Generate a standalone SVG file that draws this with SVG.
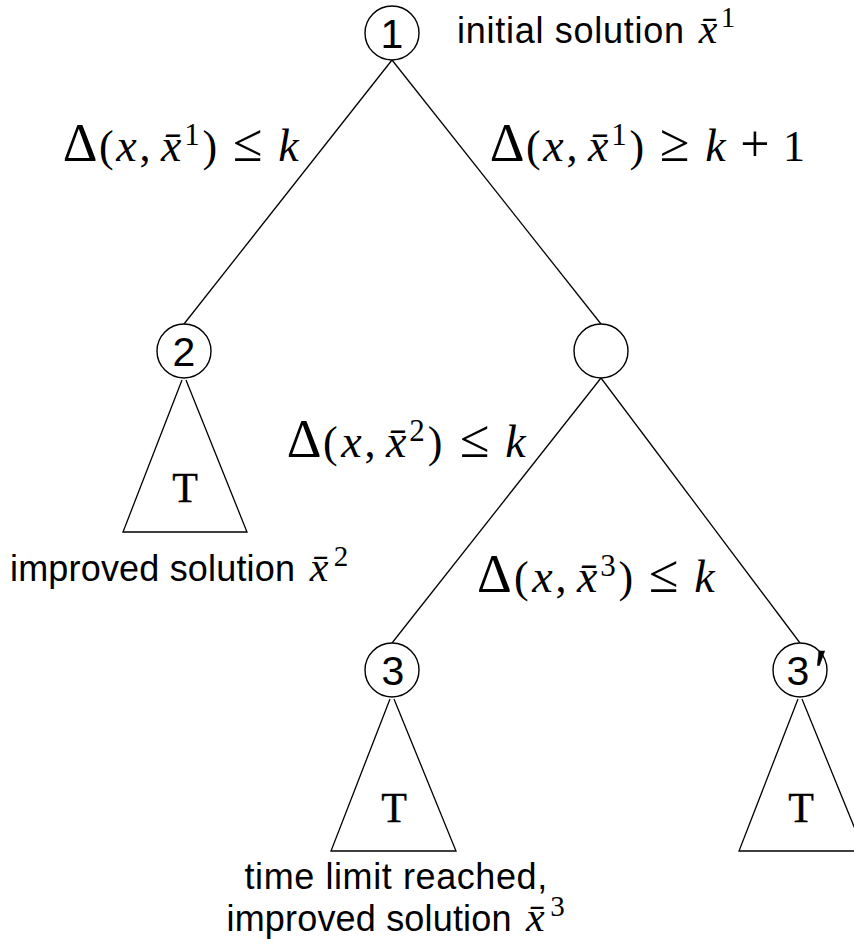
<svg xmlns="http://www.w3.org/2000/svg" width="854" height="947" viewBox="0 0 854 947">
<style>
.ln{stroke:#000;stroke-width:1.3;fill:none}
.nd{stroke:#000;stroke-width:1.4;fill:#fff}
.num{font-family:"Liberation Sans",Arial,sans-serif;font-size:41px;text-anchor:middle;fill:#000}
.tt{font-family:"Liberation Serif","Times New Roman",serif;font-size:42px;text-anchor:middle;fill:#000;stroke:#000;stroke-width:0.35}
.sans{font-family:"Liberation Sans",Arial,sans-serif;font-size:36px;fill:#000}
.m{font-family:"Liberation Serif","Times New Roman",serif;font-size:44px;text-anchor:middle;fill:#000}
.mx{font-family:"Liberation Serif","Times New Roman",serif;font-size:42px;text-anchor:middle;font-style:italic;fill:#000}
.i{font-style:italic;font-size:46px}
.d{font-size:54px}
.rel{font-size:54px}
.pl{font-size:52px}
.sup{font-size:31px}
.ssup{font-family:"Liberation Serif","Times New Roman",serif;font-size:29px;text-anchor:middle;fill:#000}
.pr{font-family:"Liberation Serif","Times New Roman",serif;font-size:62px;text-anchor:middle;fill:#000;stroke:#000;stroke-width:0.4}
</style>
<rect width="854" height="947" fill="#fff"/>
<g id="connectors">
<line class="ln" x1="392" y1="60" x2="184" y2="324"/>
<line class="ln" x1="392" y1="60" x2="601" y2="324"/>
<line class="ln" x1="601" y1="378" x2="392" y2="643"/>
<line class="ln" x1="601" y1="378" x2="800" y2="643"/>
</g>
<g id="node1">
<circle class="nd" cx="392" cy="33" r="27"/>
<text class="num" x="392" y="47.5">1</text>
<text class="sans" x="457" y="43" textLength="227">initial solution</text>
<text class="mx" x="708" y="43">x&#x0304;</text>
<text class="ssup" x="728" y="27">1</text>
</g>
<g id="node2">
<circle class="nd" cx="184" cy="351" r="27"/>
<text class="num" x="184" y="365.5">2</text>
<path class="ln" d="M182,380 L123,532 L247,532 L186,380"/>
<text class="tt" x="185" y="502">T</text>
<text class="sans" x="10" y="581" textLength="285">improved solution</text>
<text class="mx" x="319" y="581">x&#x0304;</text>
<text class="ssup" x="341" y="566">2</text>
</g>
<g id="node_mid">
<circle class="nd" cx="601" cy="351" r="27"/>
</g>
<g id="node3">
<circle class="nd" cx="392" cy="670" r="27"/>
<text class="num" x="393" y="684.5">3</text>
<path class="ln" d="M390,699 L331,851 L456,851 L394,699"/>
<text class="tt" x="394" y="822">T</text>
<text class="sans" x="244.5" y="889" textLength="302.7">time limit reached,</text>
<text class="sans" x="226.5" y="931" textLength="285">improved solution</text>
<text class="mx" x="535.4" y="931">x&#x0304;</text>
<text class="ssup" x="557.5" y="916">3</text>
</g>
<g id="node3p">
<circle class="nd" cx="800" cy="670" r="27"/>
<text class="num" x="798" y="684.5">3</text>
<text class="pr" x="821" y="691">′</text>
<path class="ln" d="M798,699 L739,851 L864,851 L802,699"/>
<text class="tt" x="801" y="822">T</text>
</g>
<g id="labels">
<text class="m" y="161"><tspan class="d" x="80">Δ</tspan><tspan x="106.3">(</tspan><tspan class="i" x="126.4">x</tspan><tspan x="145.1">,</tspan><tspan class="i" x="171.1">x&#x0304;</tspan><tspan class="sup" x="192" dy="-16">1</tspan><tspan x="209.9" dy="16">)</tspan><tspan class="rel" x="247.7">≤</tspan><tspan class="i" x="288.5">k</tspan></text>
<text class="m" y="161"><tspan class="d" x="507">Δ</tspan><tspan x="533.3">(</tspan><tspan class="i" x="553.4">x</tspan><tspan x="572.1">,</tspan><tspan class="i" x="598.1">x&#x0304;</tspan><tspan class="sup" x="619" dy="-16">1</tspan><tspan x="636.9" dy="16">)</tspan><tspan class="rel" x="674.7">≥</tspan><tspan class="i" x="715.5">k</tspan><tspan class="pl" x="754.9">+</tspan><tspan x="794">1</tspan></text>
<text class="m" y="457"><tspan class="d" x="304">Δ</tspan><tspan x="330.3">(</tspan><tspan class="i" x="351.4">x</tspan><tspan x="370.1">,</tspan><tspan class="i" x="396.1">x&#x0304;</tspan><tspan class="sup" x="417" dy="-16">2</tspan><tspan x="435" dy="16">)</tspan><tspan class="rel" x="474.7">≤</tspan><tspan class="i" x="515.5">k</tspan></text>
<text class="m" y="592"><tspan class="d" x="494.3">Δ</tspan><tspan x="521.3">(</tspan><tspan class="i" x="542.4">x</tspan><tspan x="561.1">,</tspan><tspan class="i" x="587.1">x&#x0304;</tspan><tspan class="sup" x="608" dy="-16">3</tspan><tspan x="625.9" dy="16">)</tspan><tspan class="rel" x="663.7">≤</tspan><tspan class="i" x="704.5">k</tspan></text>
</g>
</svg>
